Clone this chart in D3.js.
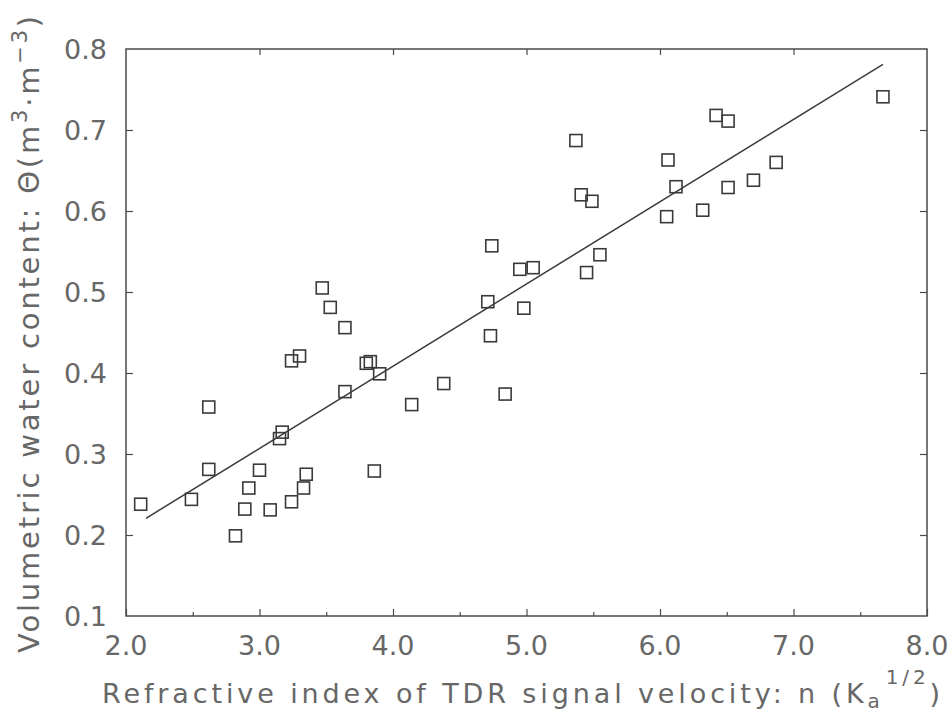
<!DOCTYPE html>
<html>
<head>
<meta charset="utf-8">
<script src="https://cdn.jsdelivr.net/npm/d3@7"></script>
<style>
  html, body { margin: 0; padding: 0; background: #ffffff; }
  svg { display: block; }
  text { font-family: "DejaVu Sans", "Liberation Sans", sans-serif; fill: #676767; }
</style>
</head>
<body>
<svg id="chart" width="949" height="715"></svg>
<script>
// Refractive index n (Ka^1/2) of each TDR measurement
const refractiveIndex = [
  2.11, 2.49, 2.62, 2.62, 2.82, 2.89, 2.92, 3.00, 3.08, 3.15,
  3.17, 3.24, 3.24, 3.30, 3.33, 3.35, 3.47, 3.53, 3.64, 3.64,
  3.80, 3.83, 3.86, 3.90, 4.14, 4.38, 4.71, 4.73, 4.74, 4.84,
  4.95, 4.98, 5.05, 5.37, 5.41, 5.45, 5.49, 5.55, 6.05, 6.06,
  6.12, 6.32, 6.42, 6.51, 6.51, 6.70, 6.87, 7.67
];
// Volumetric water content θ (m³·m⁻³) for the same measurements
const waterContent = [
  0.238, 0.244, 0.358, 0.281, 0.199, 0.232, 0.258, 0.280, 0.231, 0.319,
  0.327, 0.241, 0.415, 0.421, 0.258, 0.275, 0.505, 0.481, 0.456, 0.377,
  0.412, 0.414, 0.279, 0.399, 0.361, 0.387, 0.488, 0.446, 0.557, 0.374,
  0.528, 0.480, 0.530, 0.687, 0.620, 0.524, 0.612, 0.546, 0.593, 0.663,
  0.630, 0.601, 0.718, 0.711, 0.629, 0.638, 0.660, 0.741
];
// Linear calibration θ = slope·n + intercept, drawn over this n range
const fitSlope = 0.1015;
const fitIntercept = 0.0024;
const fitRange = [2.15, 7.67];

// Axis ticks
const xMajorTicks = [2, 3, 4, 5, 6, 7, 8];
const xMinorTicks = [2.5, 3.5, 4.5, 5.5, 6.5, 7.5];
const yMajorTicks = [0.1, 0.2, 0.3, 0.4, 0.5, 0.6, 0.7, 0.8];

const svg = d3.select("#chart");
const plot = { left: 126, right: 927, top: 49, bottom: 616 };

const x = d3.scaleLinear().domain([2, 8]).range([plot.left, plot.right]);
const y = d3.scaleLinear().domain([0.1, 0.8]).range([plot.bottom, plot.top]);

const axisColor = "#4a4a4a";
const markColor = "#3a3a3a";

// Frame
svg.append("rect")
  .attr("x", plot.left).attr("y", plot.top)
  .attr("width", plot.right - plot.left).attr("height", plot.bottom - plot.top)
  .attr("fill", "none").attr("stroke", axisColor).attr("stroke-width", 1.5);

// Inward ticks on all four sides
function styleAxis(g) {
  g.select(".domain").remove();
  g.selectAll(".tick line").attr("stroke", axisColor).attr("stroke-width", 1.2);
  g.selectAll(".tick text").remove();
}
svg.append("g").attr("transform", `translate(0,${plot.bottom})`)
  .call(d3.axisTop(x).tickValues(xMajorTicks).tickSize(7)).call(styleAxis);
svg.append("g").attr("transform", `translate(0,${plot.bottom})`)
  .call(d3.axisTop(x).tickValues(xMinorTicks).tickSize(4)).call(styleAxis);
svg.append("g").attr("transform", `translate(0,${plot.top})`)
  .call(d3.axisBottom(x).tickValues(xMajorTicks.slice(1, -1)).tickSize(6)).call(styleAxis);
svg.append("g").attr("transform", `translate(${plot.left},0)`)
  .call(d3.axisRight(y).tickValues(yMajorTicks.slice(1, -1)).tickSize(7)).call(styleAxis);
svg.append("g").attr("transform", `translate(${plot.right},0)`)
  .call(d3.axisLeft(y).tickValues(yMajorTicks.slice(1, -1)).tickSize(7)).call(styleAxis);

// Tick labels
svg.append("g").selectAll("text").data(xMajorTicks).join("text")
  .attr("x", d => x(d)).attr("y", 655)
  .attr("text-anchor", "middle").attr("font-size", 27)
  .text(d => d3.format(".1f")(d));
svg.append("g").selectAll("text").data(yMajorTicks).join("text")
  .attr("x", 107).attr("y", d => y(d) + 10)
  .attr("text-anchor", "end").attr("font-size", 27)
  .text(d => d3.format(".1f")(d));

// Calibration line
svg.append("line")
  .attr("x1", x(fitRange[0])).attr("y1", y(fitSlope * fitRange[0] + fitIntercept))
  .attr("x2", x(fitRange[1])).attr("y2", y(fitSlope * fitRange[1] + fitIntercept))
  .attr("stroke", markColor).attr("stroke-width", 1.5);

// Measurements as open squares
const side = 12;
svg.append("g").selectAll("rect")
  .data(d3.zip(refractiveIndex, waterContent)).join("rect")
  .attr("x", d => x(d[0]) - side / 2).attr("y", d => y(d[1]) - side / 2)
  .attr("width", side).attr("height", side)
  .attr("fill", "none").attr("stroke", markColor).attr("stroke-width", 1.6);

// Spread a title's letters so that it spans the given length
function fitSpacing(textSel, target) {
  let spacing = 0;
  for (let i = 0; i < 4; i++) {
    const w = textSel.node().getBBox().width;
    const n = textSel.text().length;
    spacing += (target - w) / n;
    textSel.attr("letter-spacing", spacing);
  }
}

// X axis title with subscript and superscript
const xTitle = svg.append("text").attr("x", 102).attr("y", 703).attr("font-size", 27);
xTitle.append("tspan").text("Refractive index of TDR signal velocity: n (K");
xTitle.append("tspan").attr("dy", 5).attr("font-size", 20).text("a");
xTitle.append("tspan").attr("dy", -24).attr("dx", 2).attr("font-size", 20).text("1/2");
xTitle.append("tspan").attr("dy", 19).text(")");
fitSpacing(xTitle, 842);

// Y axis title, rotated
const yTitle = svg.append("text")
  .attr("transform", "translate(39,653) rotate(-90)")
  .attr("font-size", 29);
yTitle.append("tspan").text("Volumetric water content: \u0398(m");
yTitle.append("tspan").attr("dy", -12).attr("font-size", 21).text("3");
yTitle.append("tspan").attr("dy", 12).text("\u00b7m");
yTitle.append("tspan").attr("dy", -12).attr("font-size", 21).text("\u22123");
yTitle.append("tspan").attr("dy", 12).text(")");
fitSpacing(yTitle, 640);
</script>
</body>
</html>
